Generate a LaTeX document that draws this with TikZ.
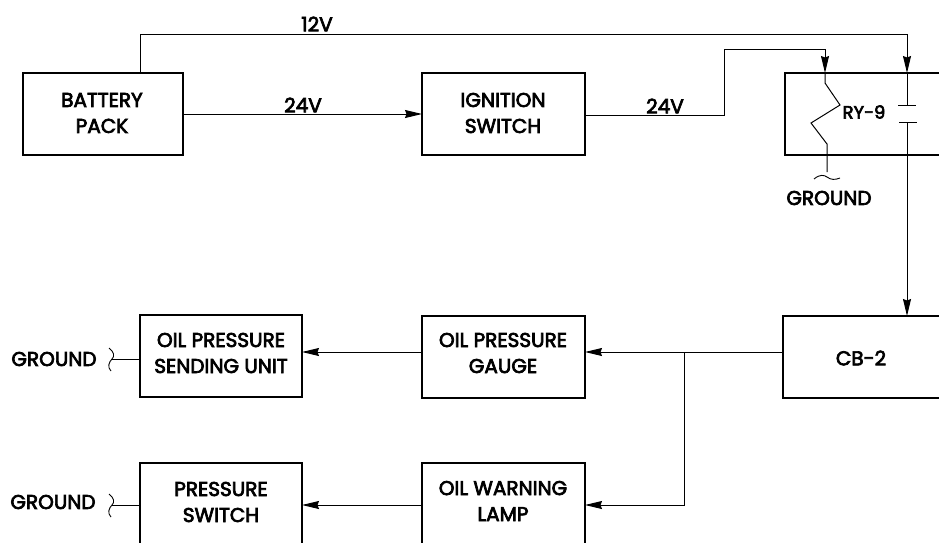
\documentclass[tikz,border=0pt]{standalone}
\usepackage{fontspec}
\setmainfont{Poppins}[FakeBold=3.5]
\usetikzlibrary{arrows.meta,calc}
\tikzset{
  box/.style={draw,line width=1.5pt,rectangle,anchor=north west,align=center,inner sep=0pt,outer sep=0pt},
  lbl/.style={font=\fontsize{20}{26}\selectfont,inner sep=0pt,align=center},
  wire/.style={line width=1pt},
  arr/.style={wire,-{Stealth[length=17pt,width=8pt,inset=1.5pt]}},
}
\begin{document}
\begin{tikzpicture}[x=1pt,y=-1pt]
\useasboundingbox (0,0) rectangle (939,542);
\clip (0,0) rectangle (939,542);
\node[box,minimum width=160pt,minimum height=82pt] (bat) at (23,73) {};
\node[box,minimum width=163pt,minimum height=82pt] (ign) at (422,73) {};
\node[box,minimum width=180pt,minimum height=82pt] (ry) at (785,73) {};
\node[box,minimum width=180pt,minimum height=82pt] (cb) at (783,316) {};
\node[box,minimum width=163pt,minimum height=82pt] (gauge) at (422,316) {};
\node[box,minimum width=162pt,minimum height=82pt] (send) at (140,315) {};
\node[box,minimum width=163pt,minimum height=90pt] (lamp) at (422,463) {};
\node[box,minimum width=162pt,minimum height=90pt] (sw) at (140,463) {};
\node[lbl] (tbat) at (102,113) {BATTERY\\PACK};
\node[lbl] (tign) at (503,113) {IGNITION\\SWITCH};
\node[lbl] (tcb) at (861,358) {CB-2};
\node[lbl] (tgauge) at (503,353) {OIL PRESSURE\\GAUGE};
\node[lbl] (tsend) at (221,353) {OIL PRESSURE\\SENDING UNIT};
\node[lbl] (tlamp) at (503,501) {OIL WARNING\\LAMP};
\node[lbl] (tsw) at (221,502) {PRESSURE\\SWITCH};
\node[lbl] (v12) at (317,24) {12V};
\node[lbl] (v24a) at (303,105) {24V};
\node[lbl] (v24b) at (665,106) {24V};
\node[lbl,font=\fontsize{18}{26}\selectfont] (try) at (864,112) {RY-9};
\node[lbl] (g1) at (829,198) {GROUND};
\node[lbl] (g2) at (54,359) {GROUND};
\node[lbl] (g3) at (53,502) {GROUND};
\coordinate (topA) at (140,73);
\coordinate (jn) at (684,352);
\draw[arr] (bat.north west -| topA) -- (140,34) -- (907,34) -- (907,73);
\draw[arr] (bat.east |- 0,114) -- (ign.west |- 0,114);
\draw[arr] (ign.east |- 0,115) -- (724,115) -- (724,49) -- (825,49) -- (825,73);
\draw[wire] (825,73) -- (825,83) -- (840,105) -- (811,123) -- (827,144) -- (827,172);
\draw[wire,line width=0.9pt] (814,179) .. controls (820,174) and (824,175) .. (827,177) .. controls (831,180) and (835,180) .. (840,178);
\draw[wire] (907,73) -- (907,105);
\draw[wire] (898,105) -- (916,105);
\draw[wire] (899,122) -- (917,122);
\draw[arr] (907,122) -- (907,316);
\draw[arr] (cb.west |- jn) -- (gauge.east |- jn);
\draw[arr] (gauge.west |- jn) -- (send.east |- jn);
\draw[arr] (jn) -- (684,505) -- (lamp.east |- 0,505);
\draw[arr] (lamp.west |- 0,505) -- (sw.east |- 0,505);
\draw[wire] (send.west |- 0,359) -- (112,359);
\draw[wire] (sw.west |- 0,505) -- (112,505);
\draw[wire,line width=0.9pt] (109,348) .. controls (114,352) and (115,356) .. (112,359) .. controls (109,362) and (107,367) .. (111,371);
\draw[wire,line width=0.9pt] (109,494) .. controls (114,498) and (115,502) .. (112,505) .. controls (109,508) and (107,513) .. (111,517);
\end{tikzpicture}
\end{document}
